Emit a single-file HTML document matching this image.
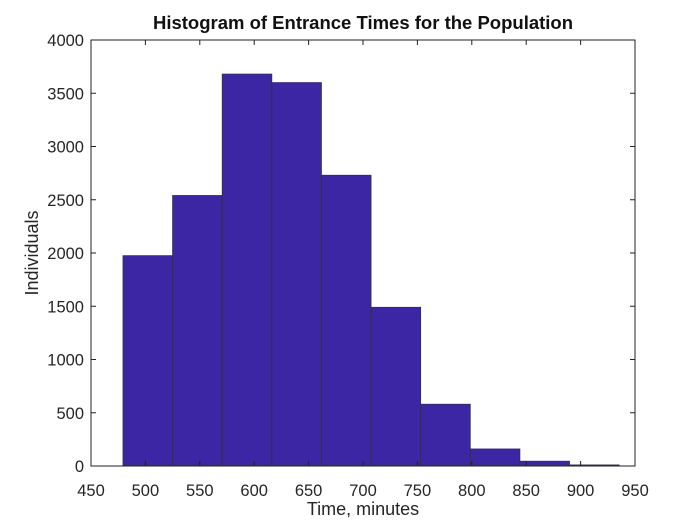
<!DOCTYPE html>
<html><head><meta charset="utf-8"><style>
body{margin:0;background:#fff;}
svg text{font-family:"Liberation Sans",Arial,sans-serif;}
</style></head><body>
<svg id="chart" width="700" height="525" xmlns="http://www.w3.org/2000/svg"></svg>
<script>
const binStart = 479.4;
const binWidth = 45.6;
const counts = [1975, 2540, 3680, 3600, 2730, 1490, 580, 160, 45, 10];
const xTicks = [450, 500, 550, 600, 650, 700, 750, 800, 850, 900, 950];
const yTicks = [0, 500, 1000, 1500, 2000, 2500, 3000, 3500, 4000];

const L=91,R=635,T=40,B=466;
const xs=v=>L+(v-450)/500*(R-L);
const ys=v=>B-v/4000*(B-T);
const svg=document.getElementById('chart');
const NS='http://www.w3.org/2000/svg';
function mk(tag,attrs,parent){const e=document.createElementNS(NS,tag);for(const k in attrs)e.setAttribute(k,attrs[k]);(parent||svg).appendChild(e);return e;}

counts.forEach((c,i)=>{
  const x0=xs(binStart+i*binWidth), x1=xs(binStart+(i+1)*binWidth);
  const r=mk('rect',{x:x0,y:ys(c),width:x1-x0,height:B-ys(c),fill:'#3d26a3',stroke:'#333','stroke-width':0.8});
  
  
});
const box=mk('rect',{x:L,y:T,width:R-L,height:B-T,fill:'none',stroke:'#222','stroke-width':1});



xTicks.forEach(v=>{
  const x=xs(v);
  mk('line',{x1:x,x2:x,y1:B,y2:B-5,stroke:'#222'});
  mk('line',{x1:x,x2:x,y1:T,y2:T+5,stroke:'#222'});
  const t=mk('text',{x:x,y:B+30,'text-anchor':'middle','font-size':16.5,fill:'#262626'});
  t.textContent=v;
  
  
});
yTicks.forEach(v=>{
  const y=ys(v);
  mk('line',{x1:L,x2:L+5,y1:y,y2:y,stroke:'#222'});
  mk('line',{x1:R,x2:R-5,y1:y,y2:y,stroke:'#222'});
  const t=mk('text',{x:L-7,y:y+6,'text-anchor':'end','font-size':16.5,fill:'#262626'});
  t.textContent=v;
  
  
});
const title=mk('text',{x:(L+R)/2,y:29,'text-anchor':'middle','font-size':18.5,'font-weight':'bold',fill:'#111'});
title.textContent='Histogram of Entrance Times for the Population';


const xl=mk('text',{x:(L+R)/2,y:515,'text-anchor':'middle','font-size':18,fill:'#262626'});
xl.textContent='Time, minutes';


const yl=mk('text',{x:0,y:0,'text-anchor':'middle','font-size':18,fill:'#262626',transform:'translate(38,253) rotate(-90)'});
yl.textContent='Individuals';


</script>
</body></html>
